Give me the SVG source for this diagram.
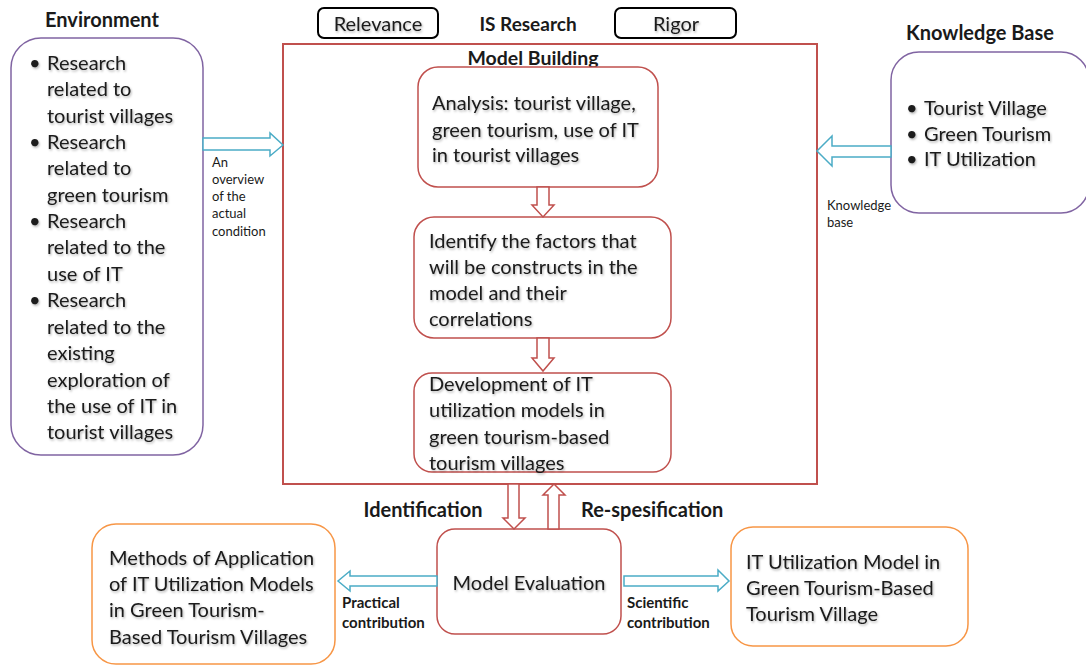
<svg xmlns="http://www.w3.org/2000/svg" width="1086" height="666" viewBox="0 0 1086 666">
<defs>
<style>
text{font-family:Lato,"Open Sans","Liberation Sans",sans-serif;fill:#1a1a1a;dominant-baseline:central}
.t{font-size:20px;filter:url(#sh)}
.b{font-weight:bold}
.h{font-size:20px;font-weight:bold}
.s{font-size:13px}
.sb{font-size:15px;font-weight:bold}
.red{fill:#fff;stroke:#c0504d;stroke-width:1.5}
.purple{fill:#fff;stroke:#8064a2;stroke-width:1.5}
.orange{fill:#fff;stroke:#f79646;stroke-width:1.5}
.blk{fill:#fff;stroke:#000;stroke-width:2}
.ab{fill:#fff;stroke:#4bacc6;stroke-width:1.5}
.ar{fill:#fff;stroke:#c0504d;stroke-width:1.5}
</style>
<filter id="sh" x="-5%" y="-20%" width="110%" height="150%">
<feDropShadow dx="1" dy="1.5" stdDeviation="1" flood-color="#000" flood-opacity="0.3"/>
</filter>
</defs>
<rect width="1086" height="666" fill="#fff"/>

<g id="is-research">
<rect x="283" y="44" width="534" height="440" fill="none" stroke="#c0504d" stroke-width="2"/>
<text class="b" x="533" y="57" text-anchor="middle" font-size="19.5">Model Building</text>
<text class="b" x="528" y="23" text-anchor="middle" font-size="19">IS Research</text>
</g>

<g id="relevance">
<rect class="blk" x="318" y="8" width="120" height="30" rx="6"/>
<text class="t" x="378" y="23" text-anchor="middle">Relevance</text>
</g>
<g id="rigor">
<rect class="blk" x="615" y="8" width="121" height="30" rx="6"/>
<text class="t" x="676" y="23" text-anchor="middle">Rigor</text>
</g>

<g id="environment">
<text class="h" x="102" y="19" text-anchor="middle">Environment</text>
<rect class="purple" x="11" y="38" width="192" height="417" rx="30"/>
<g class="t">
<text x="29" y="62">•</text><text x="47" y="62">Research</text>
<text x="47" y="88">related to</text>
<text x="47" y="115">tourist villages</text>
<text x="29" y="141">•</text><text x="47" y="141">Research</text>
<text x="47" y="167">related to</text>
<text x="47" y="194">green tourism</text>
<text x="29" y="220">•</text><text x="47" y="220">Research</text>
<text x="47" y="246">related to the</text>
<text x="47" y="273">use of IT</text>
<text x="29" y="299">•</text><text x="47" y="299">Research</text>
<text x="47" y="326">related to the</text>
<text x="47" y="352">existing</text>
<text x="47" y="379">exploration of</text>
<text x="47" y="405">the use of IT in</text>
<text x="47" y="431">tourist villages</text>
</g>
</g>

<g id="knowledge-base">
<text class="h" x="980" y="32" text-anchor="middle">Knowledge Base</text>
<rect class="purple" x="891" y="52" width="198" height="161" rx="28"/>
<g class="t">
<text x="906" y="107">•</text><text x="924" y="107">Tourist Village</text>
<text x="906" y="133">•</text><text x="924" y="133">Green Tourism</text>
<text x="906" y="158">•</text><text x="924" y="158">IT Utilization</text>
</g>
</g>

<g id="analysis">
<rect class="red" x="418" y="67" width="240" height="120" rx="20"/>
<g class="t">
<text x="432" y="102">Analysis: tourist village,</text>
<text x="432" y="129">green tourism, use of IT</text>
<text x="432" y="154">in tourist villages</text>
</g>
</g>

<g id="identify">
<rect class="red" x="414" y="217" width="257" height="121" rx="20"/>
<g class="t">
<text x="429" y="240">Identify the factors that</text>
<text x="429" y="266">will be constructs in the</text>
<text x="429" y="292">model and their</text>
<text x="429" y="318">correlations</text>
</g>
</g>

<g id="development">
<rect class="red" x="414" y="373" width="257" height="99" rx="18"/>
<g class="t">
<text x="429" y="383">Development of IT</text>
<text x="429" y="409">utilization models in</text>
<text x="429" y="436">green tourism-based</text>
<text x="429" y="462">tourism villages</text>
</g>
</g>

<g id="model-evaluation">
<rect class="red" x="437" y="529" width="184" height="105" rx="18"/>
<text class="t" x="529" y="582" text-anchor="middle">Model Evaluation</text>
</g>

<g id="methods">
<rect class="orange" x="92" y="524" width="243" height="140" rx="24"/>
<g class="t">
<text x="109" y="557">Methods of Application</text>
<text x="109" y="583">of IT Utilization Models</text>
<text x="109" y="609">in Green Tourism-</text>
<text x="109" y="636">Based Tourism Villages</text>
</g>
</g>

<g id="it-model">
<rect class="orange" x="731" y="527" width="237" height="119" rx="22"/>
<g class="t">
<text x="746" y="561">IT Utilization Model in</text>
<text x="746" y="587">Green Tourism-Based</text>
<text x="746" y="613">Tourism Village</text>
</g>
</g>

<g id="connectors">
<path class="ab" d="M203,138 H270 V133 L283,145 L270,156 V150 H203 Z"/>
<path class="ab" d="M891,146 H832 V136 L817,151 L832,166 V157 H891 Z"/>
<path class="ar" d="M537,187 H549 V205 H554 L543,217 L532,205 H537 Z"/>
<path class="ar" d="M537,338 H549 V358 H554 L543,371 L532,358 H537 Z"/>
<path class="ar" d="M508,484 H519 V518 H525 L514,529 L503,518 H508 Z"/>
<path class="ar" d="M548,529 H559 V495 H565 L554,484 L543,495 H548 Z"/>
<path class="ab" d="M437,576 H350 V571 L338,581 L350,591 V586 H437 Z"/>
<path class="ab" d="M624,576 H718 V570 L729,581 L718,591 V586 H624 Z"/>
</g>

<g id="labels">
<g class="s">
<text x="212" y="162">An</text>
<text x="212" y="179">overview</text>
<text x="212" y="196">of the</text>
<text x="212" y="213">actual</text>
<text x="212" y="231">condition</text>
<text x="827" y="205">Knowledge</text>
<text x="827" y="222">base</text>
</g>
<text class="h" x="423" y="509" text-anchor="middle">Identification</text>
<text class="h" x="581" y="509">Re-spesification</text>
<g class="sb">
<text x="342" y="602">Practical</text>
<text x="342" y="622">contribution</text>
<text x="627" y="602">Scientific</text>
<text x="627" y="622">contribution</text>
</g>
</g>
</svg>
